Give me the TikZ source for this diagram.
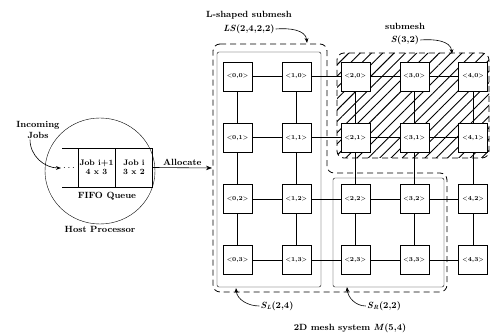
\documentclass[tikz,border=0pt]{standalone}
\usepackage{tikz}
\usetikzlibrary{arrows.meta, positioning, shapes.geometric, patterns.meta}

\begin{document}
\begin{tikzpicture}[
  x=1pt, y=1pt,
  font=\bfseries,
  pe/.style = {rectangle, draw, fill=white, minimum size=29pt, inner sep=0pt,
               font=\fontsize{6}{7}\selectfont\bfseries},
  cell/.style = {rectangle, draw, minimum width=37pt, minimum height=39pt,
                 inner sep=1pt, align=center,
                 font=\fontsize{8}{9.5}\selectfont\bfseries},
  lbl/.style = {font=\fontsize{9}{10.5}\selectfont\bfseries, inner sep=1pt},
  arr/.style = {-{Stealth[length=6pt]}, semithick},
  lblarr/.style = {-{Stealth[length=5pt]}, semithick},
  region/.style = {draw, thick, dash pattern=on 6pt off 4pt, rounded corners=7pt},
  block/.style = {draw, rounded corners=2pt},
]
\useasboundingbox (0,0) rectangle (491,334);

% submesh regions
\fill[pattern={Lines[angle=45, distance=8pt, line width=0.9pt]}, rounded corners=7pt]
  (337,281) rectangle (489,176);
\draw[region] (337,281) rectangle (489,176);
\draw[region] (213,290) -- (327,290) -- (327,161) -- (447,161) -- (447,42)
  -- (213,42) -- cycle;
\draw[block] (217,282) rectangle (321,47);
\draw[block] (333,156) rectangle (444,47);

% mesh M(5,4)
\foreach \i in {0,...,4}
  \foreach \j in {0,...,3}
    \node[pe] (n\i\j) at ({237.5+58.9*\i}, {257.5-61.2*\j}) {<\i,\j>};
\foreach \i in {0,...,3} {
  \pgfmathtruncatemacro{\k}{\i+1}
  \foreach \j in {0,...,3}
    \draw (n\i\j) -- (n\k\j);
}
\foreach \i in {0,...,4}
  \foreach \j in {0,...,2} {
    \pgfmathtruncatemacro{\k}{\j+1}
    \draw (n\i\j) -- (n\i\k);
  }

% host processor
\node[draw, ellipse, minimum width=110pt, minimum height=106pt] (host) at (100,163) {};
\node[cell] (jobnext) at (96.5,166.5) {Job i+1\\4 x 3};
\node[cell] (jobcur) at (134,166.5) {Job i\\3 x 2};
\draw (jobnext.north west) -- ++(-16,0);
\draw (jobnext.south west) -- ++(-16,0);
\node[inner sep=0pt] (dots) at (69,166) {$\cdots$};
\node[lbl] (fifo) at (107,138) {FIFO Queue};
\node[lbl, below=1pt of host] (hostlbl) {Host Processor};
\node[lbl, align=center] (incoming) at (38,204) {Incoming\\Jobs};
\draw[lblarr] ([xshift=-8pt]incoming.south) to[out=-90, in=180] ([xshift=-2pt]dots.west);

\coordinate (lsleft) at (212,166);
\draw[arr] (jobcur.east) -- node[lbl, above=1pt] {Allocate} (lsleft);

% labels
\node[lbl] (lsname) at (249,319) {L-shaped submesh};
\node[lbl] (lsform) at (249,305) {\textit{LS}(2,4,2,2)};
\coordinate (lstip) at (307,291);
\draw[lblarr] (lsform.east) to[out=5, in=95] (lstip);

\node[lbl] (smname) at (405,308) {submesh};
\node[lbl] (smform) at (405,294) {\textit{S}(3,2)};
\coordinate (smtip) at (452,280);
\draw[lblarr] (smform.east) to[out=5, in=95] (smtip);

\node[lbl] (sllbl) at (277,28) {\textit{S}\textsubscript{\textit{L}}(2,4)};
\coordinate (sltip) at (236,46);
\draw[lblarr] (sllbl.west) to[out=180, in=-85] (sltip);

\node[lbl] (srlbl) at (384,28) {\textit{S}\textsubscript{\textit{R}}(2,2)};
\coordinate (srtip) at (347,47);
\draw[lblarr] (srlbl.west) to[out=180, in=-85] (srtip);

\node[lbl] (title) at (350,6) {2D mesh system \textit{M}(5,4)};
\end{tikzpicture}
\end{document}
